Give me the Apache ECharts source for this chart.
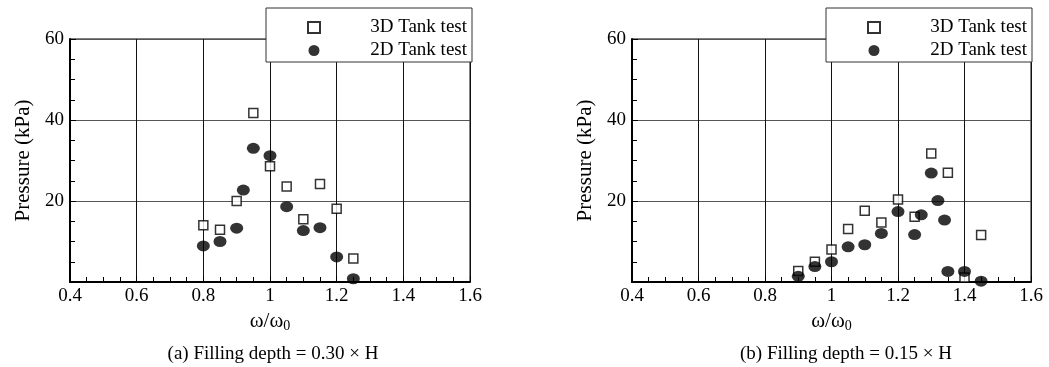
<!DOCTYPE html>
<html>
<head>
<meta charset="utf-8">
<script src="https://cdn.jsdelivr.net/npm/echarts@6/dist/echarts.min.js"></script>
<style>
html,body{margin:0;padding:0;background:#fff;}
#chart{width:1049px;height:367px;}
</style>
</head>
<body>
<div id="chart"></div>
<script>
// Panel (a): filling depth 0.30 x H
const aX3D = [0.80, 0.85, 0.90, 0.95, 1.00, 1.05, 1.10, 1.15, 1.20, 1.25];
const aY3D = [14.0, 12.9, 20.0, 41.7, 28.6, 23.6, 15.5, 24.2, 18.1, 5.8];
const aX2D = [0.80, 0.85, 0.90, 0.92, 0.95, 1.00, 1.05, 1.10, 1.15, 1.20, 1.25];
const aY2D = [8.9, 10.0, 13.3, 22.7, 33.0, 31.2, 18.6, 12.7, 13.4, 6.2, 0.8];
// Panel (b): filling depth 0.15 x H
const bX3D = [0.90, 0.95, 1.00, 1.05, 1.10, 1.15, 1.20, 1.25, 1.30, 1.35, 1.40, 1.45];
const bY3D = [2.7, 5.0, 8.0, 13.1, 17.6, 14.7, 20.4, 16.1, 31.7, 27.0, 1.1, 11.6];
const bX2D = [0.90, 0.95, 1.00, 1.05, 1.10, 1.15, 1.20, 1.25, 1.27, 1.30, 1.32, 1.34, 1.35, 1.40, 1.45];
const bY2D = [1.4, 3.8, 5.0, 8.7, 9.2, 12.0, 17.4, 11.7, 16.6, 26.9, 20.1, 15.3, 2.6, 2.6, 0.2];

const seriesNames = ['3D Tank test', '2D Tank test'];
const captions = ['(a) Filling depth = 0.30 \u00d7 H', '(b) Filling depth = 0.15 \u00d7 H'];
const xTicks = [0.4, 0.6, 0.8, 1, 1.2, 1.4, 1.6];
const yTicks = [0, 20, 40, 60];

const FONT = '"Liberation Serif", "DejaVu Serif", serif';
const zip = (xs, ys) => xs.map((x, i) => [x, ys[i]]);

const grids = [
  {left: 70, right: 579, top: 39, bottom: 85},
  {left: 632, right: 18, top: 39, bottom: 85}
];

function xAxis(i) {
  return {
    gridIndex: i, type: 'value',
    min: xTicks[0], max: xTicks[xTicks.length - 1], interval: 0.2,
    axisLine: {show: true, onZero: false, lineStyle: {color: '#000', width: 2}},
    axisTick: {show: true, inside: true, length: 6, lineStyle: {color: '#000', width: 1}},
    minorTick: {show: true, splitNumber: 4, length: 5, lineStyle: {color: '#000', width: 1}},
    splitLine: {show: true, lineStyle: {color: '#111', width: 1}},
    axisLabel: {color: '#000', fontFamily: FONT, fontSize: 19, margin: 5,
      formatter: v => String(+(+v).toFixed(1))},
    name: '{a|\u03c9/\u03c9}{s|0}',
    nameLocation: 'middle', nameGap: 25,
    nameTextStyle: {rich: {
      a: {fontFamily: FONT, fontSize: 21, color: '#000'},
      s: {fontFamily: FONT, fontSize: 14, color: '#000', padding: [10, 0, 0, 0]}
    }}
  };
}
function yAxis(i) {
  return {
    gridIndex: i, type: 'value',
    min: yTicks[0], max: yTicks[yTicks.length - 1], interval: 20,
    axisLine: {show: true, onZero: false, lineStyle: {color: '#000', width: 2}},
    axisTick: {show: true, inside: true, length: 6, lineStyle: {color: '#000', width: 1}},
    minorTick: {show: true, splitNumber: 4, length: 5, lineStyle: {color: '#000', width: 1}},
    splitLine: {show: true, lineStyle: {color: '#555', width: 1}},
    axisLabel: {color: '#000', fontFamily: FONT, fontSize: 19, margin: 6,
      formatter: v => (v === 0 ? '' : String(v))},
    name: 'Pressure (kPa)', nameLocation: 'middle', nameGap: 36,
    nameTextStyle: {fontFamily: FONT, fontSize: 21, color: '#000'}
  };
}

function legend(i, left) {
  return {
    show: true, orient: 'vertical', left: left, top: 8, width: 206,
    data: [{name: seriesNames[0]}, {name: seriesNames[1], icon: 'circle'}],
    backgroundColor: '#fff', borderColor: '#333', borderWidth: 1, borderRadius: 0,
    padding: [10, 5, 2, 41], itemGap: 4, itemWidth: 12, itemHeight: 11,
    selectedMode: false, z: 10,
    formatter: n => '{t|' + n + '}',
    textStyle: {rich: {t: {fontFamily: FONT, fontSize: 19, color: '#000', width: 142, align: 'right', lineHeight: 14}}}
  };
}

const squareStyle = {color: '#fff', borderColor: '#000', borderWidth: 1.5};
const dotStyle = {color: '#000'};

const option = {
  animation: false,
  backgroundColor: '#fff',
  grid: grids.map(g => Object.assign({show: true, borderColor: '#000', borderWidth: 1, backgroundColor: 'transparent'}, g)),
  xAxis: [xAxis(0), xAxis(1)],
  yAxis: [yAxis(0), yAxis(1)],
  legend: [legend(0, 266), legend(1, 826)],
  title: [
    {text: captions[0], left: 268, top: 340, textAlign: 'center',
     textStyle: {fontFamily: FONT, fontSize: 19, fontWeight: 'normal', color: '#000'}},
    {text: captions[1], left: 841, top: 340, textAlign: 'center',
     textStyle: {fontFamily: FONT, fontSize: 19, fontWeight: 'normal', color: '#000'}}
  ],
  series: [
    {name: seriesNames[0], type: 'scatter', xAxisIndex: 0, yAxisIndex: 0, symbol: 'rect', symbolSize: 9,
     itemStyle: squareStyle, data: zip(aX3D, aY3D), z: 3},
    {name: seriesNames[1], type: 'scatter', xAxisIndex: 0, yAxisIndex: 0, symbol: 'circle', symbolSize: [13, 11],
     itemStyle: dotStyle, data: zip(aX2D, aY2D), z: 4},
    {name: seriesNames[0], type: 'scatter', xAxisIndex: 1, yAxisIndex: 1, symbol: 'rect', symbolSize: 9,
     itemStyle: squareStyle, data: zip(bX3D, bY3D), z: 3},
    {name: seriesNames[1], type: 'scatter', xAxisIndex: 1, yAxisIndex: 1, symbol: 'circle', symbolSize: [13, 11],
     itemStyle: dotStyle, data: zip(bX2D, bY2D), z: 4}
  ]
};

const chart = echarts.init(document.getElementById('chart'), null, {renderer: 'canvas'});
chart.setOption(option);
</script>
</body>
</html>
